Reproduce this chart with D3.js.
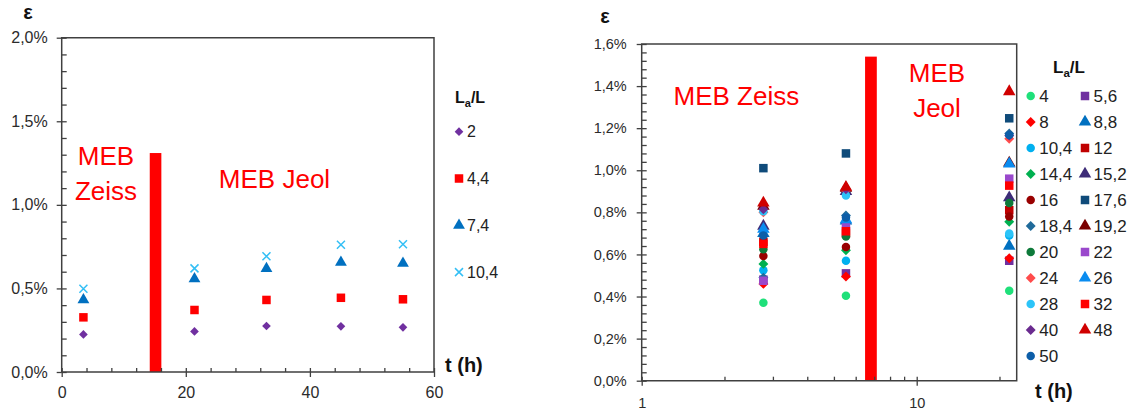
<!DOCTYPE html>
<html>
<head>
<meta charset="utf-8">
<script src="https://cdn.jsdelivr.net/npm/d3@7"></script>
<style>
  html, body { margin: 0; padding: 0; background: #fff; }
  svg { display: block; font-family: "Liberation Sans", Arial, sans-serif; }
</style>
</head>
<body>
<svg id="chart" width="1132" height="410"></svg>
<script>
// ---------------- LEFT CHART DATA ----------------
const leftTimes = [3.5, 21.4, 33, 45, 55];
const leftLabels = ["2", "4,4", "7,4", "10,4"];
const leftS2   = [0.225, 0.243, 0.275, 0.273, 0.267];
const leftS44  = [0.327, 0.371, 0.431, 0.444, 0.435];
const leftS74  = [0.432, 0.558, 0.618, 0.656, 0.650];
const leftS104 = [0.498, 0.620, 0.692, 0.761, 0.764];
const leftBar = [14.19, 16.06, 1.31];       // start t, end t, height (%)
const leftYTicks = [0, 0.5, 1.0, 1.5, 2.0];
const leftXTicks = [0, 20, 40, 60];

// ---------------- RIGHT CHART DATA ----------------
const rightTimes = [2.77, 5.53, 21.7];
const rightLabels = ["4","5,6","8","8,8","10,4","12","14,4","15,2","16","17,6","18,4","19,2","20","22","24","26","28","32","40","48","50"];
const rightAtT1 = [0.370, 0.480, 0.460, 0.700, 0.525, 0.660, 0.555, 0.735, 0.593, 1.010, 0.490, 0.830, 0.625, 0.475, 0.800, 0.720, 0.805, 0.650, 0.815, 0.845, 0.690];
const rightAtT2 = [0.404, 0.510, 0.495, 0.760, 0.570, 0.700, 0.620, 0.900, 0.635, 1.080, 0.785, 0.915, 0.685, 0.740, 0.905, 0.765, 0.880, 0.710, 0.910, 0.920, 0.775];
const rightAtT3 = [0.428, 0.570, 0.582, 0.640, 0.690, 0.810, 0.755, 0.870, 0.780, 1.247, 1.175, 1.035, 0.845, 0.960, 1.150, 1.030, 0.700, 0.927, 1.165, 1.374, 1.168];
const rightBar = [6.49, 7.16, 1.54];
const rightYTicks = [0, 0.2, 0.4, 0.6, 0.8, 1.0, 1.2, 1.4, 1.6];
const rightXTicks = [1, 10];
const rightXMinor = [2, 3, 4, 5, 6, 7, 8, 9, 20];

// ---------------- STYLES ----------------
const leftShapes = ["diamond", "square", "triangle", "x"];
const leftColors = ["#7030a0", "#ff0000", "#0070c0", "#33bff5"];
const rightShapes = ["circle","square","diamond","triangle","circle","square","diamond","triangle","circle","square","diamond","triangle","circle","square","diamond","triangle","circle","square","diamond","triangle","circle"];
const rightColors = ["#1fe07a","#7030a0","#ff0000","#0070c0","#00b0f0","#c00000","#00b050","#3d2c78","#990000","#0f4b7a","#1f6a9a","#7a0000","#0e7a3a","#9a48cc","#ff4b4b","#0a8cf0","#2cc4f8","#ff0000","#6a2b8f","#d00000","#0d5ea8"];

const svg = d3.select("#chart");
const AXIS = "#404040";
const fmtPct = v => d3.format(".1f")(v).replace(".", ",") + "%";

function drawMarker(g, shape, color, x, y, s) {
  if (shape === "square") {
    g.append("rect").attr("x", x - s/2).attr("y", y - s/2).attr("width", s).attr("height", s).attr("fill", color);
  } else if (shape === "diamond") {
    const h = s * 0.62;
    g.append("path").attr("d", `M${x},${y-h}L${x+h},${y}L${x},${y+h}L${x-h},${y}Z`).attr("fill", color);
  } else if (shape === "triangle") {
    g.append("path").attr("transform", `translate(${x},${y})`)
      .attr("d", d3.symbol(d3.symbolTriangle, s * s * 0.75)()).attr("fill", color);
  } else if (shape === "circle") {
    g.append("circle").attr("cx", x).attr("cy", y).attr("r", s/2).attr("fill", color);
  } else if (shape === "x") {
    const h = s/2;
    g.append("path").attr("d", `M${x-h},${y-h}L${x+h},${y+h}M${x-h},${y+h}L${x+h},${y-h}`)
      .attr("stroke", color).attr("stroke-width", 1.5).attr("fill", "none");
  }
}

function styleAxis(g, fontSize) {
  g.select(".domain").remove();
  g.selectAll("line").attr("stroke", AXIS).attr("stroke-width", 1.3);
  g.selectAll("text").attr("fill", "#2b2b2b").style("font-size", fontSize + "px")
    .style("font-family", '"Liberation Sans", Arial, sans-serif');
}

// ================= LEFT CHART =================
(function() {
  const L = 61.7, R = 434, T = 37.7, B = 372;
  const x = d3.scaleLinear().domain([0, 60]).range([L, R]);
  const y = d3.scaleLinear().domain([0, 2]).range([B, T]);
  const g = svg.append("g");

  g.append("rect").attr("x", x(leftBar[0])).attr("width", x(leftBar[1]) - x(leftBar[0]))
    .attr("y", y(leftBar[2])).attr("height", y(0) - y(leftBar[2])).attr("fill", "#ff0000");

  const yMinor = d3.range(0, 21).map(i => i / 10);
  styleAxis(g.append("g").attr("transform", `translate(${L},0)`)
    .call(d3.axisLeft(y).tickValues(leftYTicks).tickSize(5).tickPadding(9).tickFormat(fmtPct)), 16);
  styleAxis(g.append("g").attr("transform", `translate(${L},0)`)
    .call(d3.axisRight(y).tickValues(yMinor).tickSize(5).tickFormat("")), 16);
  const xMinor = d3.range(0, 61, 4);
  styleAxis(g.append("g").attr("transform", `translate(0,${B})`)
    .call(d3.axisBottom(x).tickValues(leftXTicks).tickSize(5).tickPadding(10).tickFormat(d3.format("d"))), 16);
  styleAxis(g.append("g").attr("transform", `translate(0,${B})`)
    .call(d3.axisTop(x).tickValues(xMinor).tickSize(4).tickFormat("")), 16);

  g.append("path").attr("d", `M${L},${B}L${L},${T}L${R},${T}L${R},${B}Z`)
    .attr("fill", "none").attr("stroke", AXIS).attr("stroke-width", 1.5);

  const series = [leftS2, leftS44, leftS74, leftS104];
  const sizes = [7, 8.5, 9, 8];
  series.forEach((vals, si) => {
    vals.forEach((v, i) => drawMarker(g, leftShapes[si], leftColors[si], x(leftTimes[i]), y(v), sizes[si]));
  });

  g.append("text").attr("x", 28).attr("y", 19).attr("text-anchor", "middle")
    .style("font-size", "20px").style("font-weight", "bold").attr("fill", "#111").text("ε");
  g.append("text").attr("x", 445).attr("y", 372)
    .style("font-size", "20px").style("font-weight", "bold").attr("fill", "#111").text("t (h)");
  const red = g.append("g").attr("fill", "#ff0000").style("font-size", "26px").attr("text-anchor", "middle");
  red.append("text").attr("x", 106).attr("y", 165).text("MEB");
  red.append("text").attr("x", 106).attr("y", 200).text("Zeiss");
  red.append("text").attr("x", 274.5).attr("y", 188).text("MEB Jeol");

  const lt = g.append("text").attr("x", 455).attr("y", 103).style("font-size", "16px")
    .style("font-weight", "bold").attr("fill", "#111");
  lt.append("tspan").text("L");
  lt.append("tspan").attr("dy", 4).style("font-size", "11px").text("a");
  lt.append("tspan").attr("dy", -4).text("/L");
  leftLabels.forEach((lab, i) => {
    const yy = 131.7 + i * 46.8;
    drawMarker(g, leftShapes[i], leftColors[i], 459, yy, sizes[i]);
    g.append("text").attr("x", 467).attr("y", yy + 5.5).style("font-size", "16px")
      .attr("fill", "#222").text(lab);
  });
})();

// ================= RIGHT CHART =================
(function() {
  const L = 641.7, R = 1016.7, T = 44, B = 380.7;
  const x = d3.scaleLog().domain([1, 23.1]).range([L, R]);
  const y = d3.scaleLinear().domain([0, 1.6]).range([B, T]);
  const g = svg.append("g");

  g.append("rect").attr("x", x(rightBar[0])).attr("width", x(rightBar[1]) - x(rightBar[0]))
    .attr("y", y(rightBar[2])).attr("height", y(0) - y(rightBar[2])).attr("fill", "#ff0000");

  const yMinor = d3.range(0, 41).map(i => i * 0.04);
  styleAxis(g.append("g").attr("transform", `translate(${L},0)`)
    .call(d3.axisLeft(y).tickValues(rightYTicks).tickSize(5).tickPadding(10).tickFormat(fmtPct)), 14.5);
  styleAxis(g.append("g").attr("transform", `translate(${L},0)`)
    .call(d3.axisRight(y).tickValues(yMinor).tickSize(5).tickFormat("")), 14.5);
  styleAxis(g.append("g").attr("transform", `translate(0,${B})`)
    .call(d3.axisBottom(x).tickValues(rightXTicks).tickSize(5).tickPadding(12).tickFormat(d3.format("d"))), 14.5);
  styleAxis(g.append("g").attr("transform", `translate(0,${B})`)
    .call(d3.axisTop(x).tickValues(rightXMinor.concat(rightXTicks)).tickSize(4).tickFormat("")), 14.5);

  g.append("path").attr("d", `M${L},${B}L${L},${T}L${R},${T}L${R},${B}Z`)
    .attr("fill", "none").attr("stroke", AXIS).attr("stroke-width", 1.5);

  const cols = [rightAtT1, rightAtT2, rightAtT3];
  const sz = {circle: 8.5, square: 8.5, diamond: 8, triangle: 9.5};
  rightLabels.forEach((lab, si) => {
    cols.forEach((col, ti) => {
      drawMarker(g, rightShapes[si], rightColors[si], x(rightTimes[ti]), y(col[si]), sz[rightShapes[si]]);
    });
  });

  g.append("text").attr("x", 605).attr("y", 23).attr("text-anchor", "middle")
    .style("font-size", "20px").style("font-weight", "bold").attr("fill", "#111").text("ε");
  g.append("text").attr("x", 1035).attr("y", 398)
    .style("font-size", "20px").style("font-weight", "bold").attr("fill", "#111").text("t (h)");
  const red = g.append("g").attr("fill", "#ff0000").style("font-size", "26px").attr("text-anchor", "middle");
  red.append("text").attr("x", 736.4).attr("y", 105).text("MEB Zeiss");
  red.append("text").attr("x", 937).attr("y", 81.7).text("MEB");
  red.append("text").attr("x", 937).attr("y", 116.7).text("Jeol");

  const lt = g.append("text").attr("x", 1053).attr("y", 73.3).style("font-size", "17px")
    .style("font-weight", "bold").attr("fill", "#111");
  lt.append("tspan").text("L");
  lt.append("tspan").attr("dy", 4).style("font-size", "11.5px").text("a");
  lt.append("tspan").attr("dy", -4).text("/L");
  rightLabels.forEach((lab, i) => {
    const row = Math.floor(i / 2), c = i % 2;
    const yy = 96 + row * 26;
    const mx = c === 0 ? 1030.7 : 1085;
    drawMarker(g, rightShapes[i], rightColors[i], mx, yy, sz[rightShapes[i]]);
    g.append("text").attr("x", mx + 8.5).attr("y", yy + 6).style("font-size", "17px")
      .attr("fill", "#222").text(lab);
  });
})();
</script>
</body>
</html>
